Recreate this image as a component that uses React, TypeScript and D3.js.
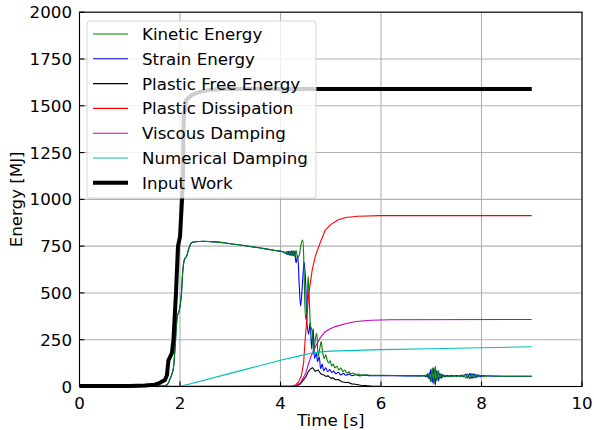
import React from "react";
import * as d3 from "d3";

const W = 594;
const H = 430;
const M = { left: 79.5, right: 582, top: 12.2, bottom: 386.5 };

const xTicks = [0, 2, 4, 6, 8, 10];
const yTicks = [0, 250, 500, 750, 1000, 1250, 1500, 1750, 2000];

const seriesNames = [
  "Kinetic Energy",
  "Strain Energy",
  "Plastic Free Energy",
  "Plastic Dissipation",
  "Viscous Damping",
  "Numerical Damping",
  "Input Work",
];

const kinetic: [number, number][] = [
  [0, 0], [1.4, 0], [1.6, 2], [1.74, 8], [1.8, 40], [1.86, 85], [1.9, 200], [1.95, 380], [1.98, 400],
  [2.02, 470], [2.06, 630], [2.09, 680], [2.13, 695], [2.18, 740], [2.23, 768], [2.4, 775], [2.6, 774],
  [2.8, 770], [3.0, 763], [3.3, 752], [3.6, 740], [3.9, 727], [4.05, 720], [4.1, 712], [4.13, 722],
  [4.16, 705], [4.19, 724], [4.22, 700], [4.25, 726], [4.28, 695], [4.31, 728], [4.34, 690], [4.37, 700],
  [4.41, 760], [4.44, 782], [4.47, 600], [4.5, 360], [4.53, 430], [4.55, 590], [4.58, 420], [4.6, 320],
  [4.63, 300], [4.66, 170], [4.69, 250], [4.72, 284], [4.75, 160], [4.78, 200], [4.81, 240], [4.84, 180],
  [4.87, 150], [4.9, 170], [4.93, 140], [4.96, 125], [4.99, 138], [5.02, 110], [5.05, 120], [5.08, 100],
  [5.12, 108], [5.16, 88], [5.2, 98], [5.24, 80], [5.28, 88], [5.32, 72], [5.36, 78], [5.4, 68], [5.45, 72],
  [5.5, 64], [5.55, 67], [5.6, 61], [5.7, 63], [5.8, 60], [6.0, 60], [6.5, 58], [6.8, 57], [6.86, 56],
  [6.9, 62], [6.93, 48], [6.96, 75], [6.99, 25], [7.02, 100], [7.05, 12], [7.08, 108], [7.11, 30],
  [7.14, 85], [7.17, 40], [7.2, 68], [7.23, 50], [7.27, 60], [7.31, 52], [7.35, 58], [7.4, 52], [7.45, 58],
  [7.5, 53], [7.55, 58], [7.6, 52], [7.65, 62], [7.69, 44], [7.73, 68], [7.77, 42], [7.81, 70], [7.85, 45],
  [7.89, 65], [7.93, 50], [7.97, 60], [8.02, 54], [8.1, 57], [8.5, 55], [9.0, 55],
];

const strain: [number, number][] = [
  [0, 0], [1.4, 0], [1.6, 2], [1.74, 8], [1.8, 40], [1.86, 85], [1.9, 200], [1.95, 380], [1.98, 400],
  [2.02, 470], [2.06, 630], [2.09, 680], [2.13, 695], [2.18, 740], [2.23, 768], [2.4, 775], [2.6, 774],
  [2.8, 770], [3.0, 763], [3.3, 752], [3.6, 740], [3.9, 727], [4.05, 720], [4.1, 715], [4.13, 705],
  [4.16, 722], [4.19, 700], [4.22, 725], [4.25, 698], [4.28, 722], [4.31, 660], [4.34, 700], [4.37, 560],
  [4.4, 430], [4.43, 520], [4.47, 665], [4.5, 560], [4.53, 330], [4.56, 280], [4.59, 340], [4.62, 200],
  [4.65, 310], [4.68, 150], [4.71, 177], [4.74, 133], [4.77, 159], [4.8, 95], [4.83, 120], [4.86, 85],
  [4.9, 100], [4.94, 80], [4.98, 90], [5.02, 75], [5.06, 82], [5.1, 68], [5.15, 76], [5.2, 62], [5.25, 70],
  [5.3, 60], [5.36, 66], [5.42, 58], [5.5, 63], [5.58, 57], [5.66, 61], [5.75, 58], [6.0, 58], [6.5, 57],
  [6.8, 57], [6.86, 58], [6.9, 52], [6.93, 66], [6.96, 40], [6.99, 90], [7.02, 20], [7.05, 100], [7.08, 8],
  [7.11, 85], [7.14, 30], [7.17, 70], [7.2, 45], [7.23, 62], [7.27, 52], [7.31, 60], [7.35, 54], [7.4, 60],
  [7.45, 55], [7.5, 59], [7.55, 55], [7.6, 60], [7.65, 52], [7.69, 66], [7.73, 45], [7.77, 70], [7.81, 43],
  [7.85, 68], [7.89, 48], [7.93, 62], [7.97, 52], [8.02, 58], [8.1, 56], [8.5, 55], [9.0, 55],
];

const plasticFree: [number, number][] = [
  [0, 0], [4.3, 0], [4.4, 15], [4.5, 50], [4.55, 78], [4.6, 95], [4.64, 100], [4.69, 82], [4.75, 88],
  [4.8, 68], [4.86, 62], [4.9, 55], [4.95, 57], [5.0, 45], [5.05, 46], [5.09, 36], [5.15, 37], [5.22, 25],
  [5.29, 21], [5.35, 22], [5.42, 14], [5.49, 12], [5.6, 7], [5.8, 3], [6.0, 1], [6.3, 0], [9.0, 0],
];

const plasticDiss: [number, number][] = [
  [0, 0], [4.2, 0], [4.3, 8], [4.36, 25], [4.41, 53], [4.46, 124], [4.49, 248], [4.53, 380], [4.56, 490],
  [4.63, 622], [4.69, 693], [4.76, 747], [4.89, 836], [5.0, 865], [5.14, 890], [5.3, 903], [5.54, 910],
  [6.0, 913], [9.0, 913],
];

const viscous: [number, number][] = [
  [0, 0], [4.3, 3], [4.4, 20], [4.5, 70], [4.56, 124], [4.62, 170], [4.69, 210], [4.79, 260], [4.89, 293],
  [5.0, 310], [5.09, 320], [5.29, 335], [5.5, 347], [5.8, 354], [6.2, 357], [9.0, 358],
];

const numerical: [number, number][] = [
  [0, 0], [2.0, 0], [3.0, 70], [4.0, 140], [4.4, 165], [4.6, 178], [4.8, 185], [5.0, 189], [5.5, 193],
  [6.0, 197], [7.0, 202], [8.0, 207], [9.0, 212],
];

const inputWork: [number, number][] = [
  [0, 3], [1.0, 3], [1.3, 5], [1.5, 10], [1.6, 20], [1.7, 35], [1.74, 60], [1.77, 140], [1.84, 180],
  [1.87, 250], [1.92, 500], [1.96, 750], [2.0, 800], [2.04, 1000], [2.06, 1120], [2.07, 1390],
  [2.08, 1450], [2.12, 1530], [2.23, 1557], [2.4, 1575], [2.6, 1585], [2.9, 1590], [9.0, 1590],
];

const seriesData = [kinetic, strain, plasticFree, plasticDiss, viscous, numerical, inputWork];
const seriesColors = ["#008000", "#0000ff", "#000000", "#ff0000", "#bf00bf", "#00bfbf", "#000000"];
const seriesWidths = [1.1, 1.1, 1.1, 1.1, 1.1, 1.1, 4];
const drawOrder = [1, 0, 2, 3, 4, 5, 6];

const FONT = "DejaVu Sans";
const FS = 16.67;

export default function App() {
  const x = d3.scaleLinear().domain([0, 10]).range([M.left, M.right]);
  const y = d3.scaleLinear().domain([0, 2000]).range([M.bottom, M.top]);

  const smooth = d3
    .line<[number, number]>()
    .x((d) => x(d[0]))
    .y((d) => y(d[1]))
    .curve(d3.curveCatmullRom.alpha(0.5));
  const straight = d3
    .line<[number, number]>()
    .x((d) => x(d[0]))
    .y((d) => y(d[1]));

  const legendX = 87;
  const legendY = 21;
  const legendW = 229;
  const legendH = 177;
  const rowH = 24.8;

  return (
    <svg
      width={W}
      height={H}
      style={{ position: "absolute", left: 0, top: 0, background: "#fff" }}
      fontFamily={FONT}
    >
      <rect x={0} y={0} width={W} height={H} fill="#fff" />
      {/* grid */}
      {xTicks.map((t) => (
        <line key={"gx" + t} x1={x(t)} x2={x(t)} y1={M.top} y2={M.bottom} stroke="#b0b0b0" strokeWidth={1.1} />
      ))}
      {yTicks.map((t) => (
        <line key={"gy" + t} x1={M.left} x2={M.right} y1={y(t)} y2={y(t)} stroke="#b0b0b0" strokeWidth={1.1} />
      ))}
      {/* series */}
      {drawOrder.map((i) => (
        <path
          key={"s" + i}
          d={(i <= 1 ? smooth : straight)(seriesData[i]) || ""}
          fill="none"
          stroke={seriesColors[i]}
          strokeWidth={seriesWidths[i]}
          strokeLinejoin="round"
        />
      ))}
      {/* ticks (inward) */}
      {xTicks.map((t) => (
        <line key={"tx" + t} x1={x(t)} x2={x(t)} y1={M.bottom} y2={M.bottom - 4.9} stroke="#000" strokeWidth={1.1} />
      ))}
      {yTicks.map((t) => (
        <line key={"ty" + t} x1={M.left} x2={M.left + 4.9} y1={y(t)} y2={y(t)} stroke="#000" strokeWidth={1.1} />
      ))}
      {/* spines */}
      <rect
        x={M.left}
        y={M.top}
        width={M.right - M.left}
        height={M.bottom - M.top}
        fill="none"
        stroke="#000"
        strokeWidth={1.1}
      />
      {/* tick labels */}
      {xTicks.map((t) => (
        <text key={"lx" + t} x={x(t)} y={408.5} textAnchor="middle" fontSize={FS} fill="#000">
          {t}
        </text>
      ))}
      {yTicks.map((t) => (
        <text
          key={"ly" + t}
          x={72}
          y={y(t) + 6}
          textAnchor="end"
          fontSize={FS}
          fill="#000"
        >
          {t}
        </text>
      ))}
      {/* axis labels */}
      <text x={(M.left + M.right) / 2} y={426} textAnchor="middle" fontSize={FS} fill="#000">
        Time [s]
      </text>
      <text
        transform={`translate(22, ${(M.top + M.bottom) / 2}) rotate(-90)`}
        textAnchor="middle"
        fontSize={FS}
        fill="#000"
      >
        Energy [MJ]
      </text>
      {/* legend */}
      <rect
        x={legendX}
        y={legendY}
        width={legendW}
        height={legendH}
        rx={3}
        fill="#fff"
        fillOpacity={0.8}
        stroke="#cccccc"
        strokeOpacity={0.8}
        strokeWidth={1}
      />
      {seriesNames.map((name, i) => {
        const cy = 34 + i * rowH;
        return (
          <g key={"lg" + i}>
            <line x1={93} x2={128} y1={cy} y2={cy} stroke={seriesColors[i]} strokeWidth={seriesWidths[i]} />
            <text x={142} y={cy + 6} fontSize={FS} fill="#000">
              {name}
            </text>
          </g>
        );
      })}
    </svg>
  );
}
